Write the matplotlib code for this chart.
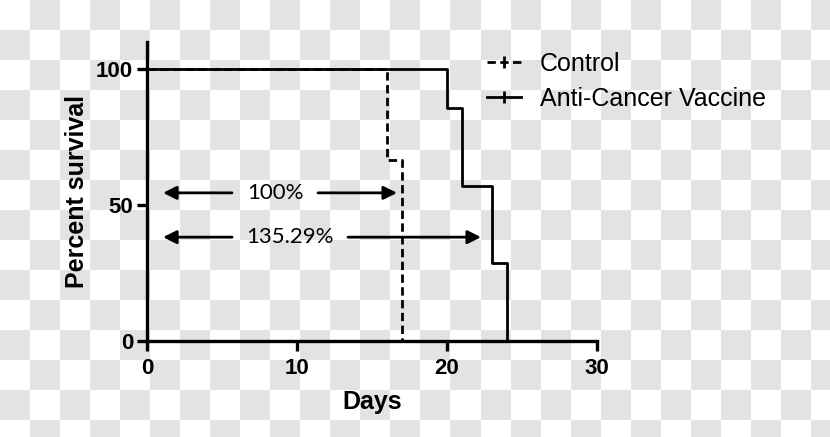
import numpy as np
import matplotlib
matplotlib.use("Agg")
import matplotlib.pyplot as plt
from matplotlib.lines import Line2D

# step survival data (days, percent)
control_days = [0, 16, 17]
control_surv = [100, 66.7, 0]
vaccine_days = [0, 20, 21, 23, 24]
vaccine_surv = [100, 85.7, 57.1, 28.6, 0]

# median survival annotations: (label, arrow start, gap left, gap right, arrow end, y)
ann_labels = ["100%", "135.29%"]
ann_y = [54.5, 38.2]
ann_start = [1.07, 1.07]
ann_gap_l = [5.67, 5.67]
ann_gap_r = [11.4, 13.4]
ann_end = [16.67, 22.27]

x_ticks = [0, 10, 20, 30]
y_ticks = [0, 50, 100]

W, H = 830, 437
fig = plt.figure(figsize=(W / 100, H / 100), dpi=100)

# transparent-style checkerboard background
bg = fig.add_axes([0, 0, 1, 1], zorder=0)
nx, ny = 28, 15
board = (np.add.outer(np.arange(ny), np.arange(nx)) % 2).astype(float)
bg.imshow(board, cmap=matplotlib.colors.ListedColormap(["#ffffff", "#e3e3e3"]),
          extent=[0, nx * 30, ny * 30, 0], interpolation="nearest", aspect="auto")
bg.set_xlim(0, W)
bg.set_ylim(H, 0)
bg.axis("off")

ax = fig.add_axes([147 / W, 1 - 341 / H, 450 / W, 299 / H], zorder=1)
ax.set_facecolor("none")

def step_xy(days, surv):
    xs, ys = [], []
    for i, (d, s) in enumerate(zip(days, surv)):
        if i > 0:
            xs.append(d)
            ys.append(surv[i - 1])
        xs.append(d)
        ys.append(s)
    return xs, ys

dash = (0, (3, 1.6))
cx, cy = step_xy(control_days, control_surv)
vx, vy = step_xy(vaccine_days, vaccine_surv)
ax.plot(cx, cy, color="black", lw=2.0, linestyle=dash, clip_on=False, zorder=3)
ax.plot(vx, vy, color="black", lw=2.0, clip_on=False, zorder=3)

for lab, y, a, gl, gr, b in zip(ann_labels, ann_y, ann_start, ann_gap_l, ann_gap_r, ann_end):
    for tip, tail in [(a, gl), (b, gr)]:
        ax.annotate("", xy=(tip, y), xytext=(tail, y),
                    arrowprops=dict(arrowstyle="-|>", color="black", lw=2.0,
                                    mutation_scale=20, shrinkA=0, shrinkB=0))
    ax.text((gl + gr) / 2, y, lab, ha="center", va="center",
            fontsize=16, family="Lato")

ax.set_xlim(0, 30)
ax.set_ylim(0, 110)
ax.set_xticks(x_ticks)
ax.set_yticks(y_ticks)
for sp in ["top", "right"]:
    ax.spines[sp].set_visible(False)
for sp in ["left", "bottom"]:
    ax.spines[sp].set_linewidth(2.4)
ax.tick_params(axis="y", width=2.4, length=7, labelsize=16, pad=3)
ax.tick_params(axis="x", width=2.4, length=7, labelsize=16, pad=5)
for lab in ax.get_xticklabels() + ax.get_yticklabels():
    lab.set_fontweight("bold")
    lab.set_family("Liberation Sans")

ax.set_xlabel("Days", fontsize=18, fontweight="bold", family="Liberation Sans", labelpad=8)
ax.set_ylabel("Percent survival", fontsize=18, fontweight="bold", family="Liberation Sans", labelpad=5)

handles = [
    Line2D([], [], color="black", lw=2.0, linestyle=dash, marker="|",
           markersize=9, markeredgewidth=2.0),
    Line2D([], [], color="black", lw=2.0, marker="|", markersize=9, markeredgewidth=2.0),
]
ax.legend(handles, ["Control", "Anti-Cancer Vaccine"], loc="upper left",
          bbox_to_anchor=(487 / W, 1 - 52 / H), bbox_transform=fig.transFigure,
          frameon=False, borderpad=0, borderaxespad=0, handlelength=1.35,
          handletextpad=0.75, labelspacing=0.42,
          prop={"family": "Liberation Sans", "size": 18}, numpoints=1)

fig.savefig("out.png", dpi=100)
